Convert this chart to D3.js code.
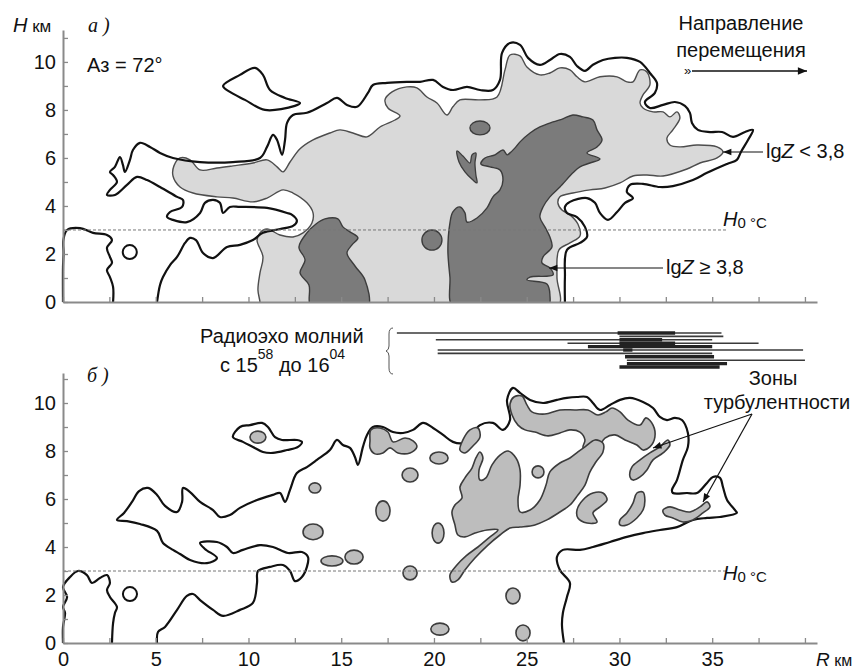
<!DOCTYPE html>
<html><head><meta charset="utf-8">
<script src="https://cdn.jsdelivr.net/npm/d3@7"></script>
<style>body{margin:0;background:#fff}svg{display:block}</style>
</head><body>
<svg id="c" width="855" height="669"></svg>
<script>
// ---------- DATA (R in km, H in km) ----------
const xTickValues = d3.range(0, 40.01, 2.5);
const xTickLabels = [0, 5, 10, 15, 20, 25, 30, 35];
const yTickValues = d3.range(0, 12, 1);
const yTickLabels = [0, 2, 4, 6, 8, 10];
const freezingLevel = 3;          // H0°C, km
const freezingLevelEnd = 35.8;    // km

// Panel a
const aLeftContour = [[0,0],[0,1.46],[0.03,2.04],[0.02,2.58],[0.22,3.0],[0.92,3.08],[1.62,2.88],[2.37,2.79],[2.64,2.58],[2.37,2.25],[2.53,1.88],[2.64,1.63],[2.37,1.33],[2.53,1.04],[2.7,0.63],[2.7,0]];
const aEnvelope = [[5.07,0],[5.23,0.71],[5.39,1.04],[5.77,1.54],[6.15,1.88],[6.58,2.46],[6.85,2.67],[7.17,2.58],[7.55,2.04],[8.09,1.83],[8.84,2.29],[9.54,2.38],[10.24,2.58],[10.78,2.88],[11.70,3.04],[12.40,3.17],[12.61,3.38],[12.35,3.63],[12.08,3.71],[11.0,3.92],[9.54,3.96],[9.0,3.96],[8.63,3.71],[8.46,4.13],[8.09,4.25],[7.65,4.13],[7.39,3.71],[6.68,3.33],[5.93,3.42],[5.61,3.54],[5.77,3.75],[6.42,3.96],[6.47,4.25],[6.15,4.38],[5.23,4.79],[4.53,5.08],[3.99,5.21],[3.45,4.88],[2.80,4.46],[2.37,4.46],[2.53,4.67],[2.91,5.0],[2.70,5.29],[2.53,5.42],[2.80,5.63],[3.07,6.04],[3.23,5.71],[3.34,5.42],[3.61,5.92],[3.77,6.33],[4.15,6.63],[4.69,6.46],[5.23,6.21],[5.93,6.0],[7.39,5.83],[9.16,5.83],[10.62,6.0],[11.0,6.46],[11.32,6.96],[11.54,6.75],[11.81,6.13],[11.97,6.75],[12.08,7.46],[12.40,7.79],[13.15,7.88],[14.23,8.29],[14.77,8.5],[15.31,8.21],[15.85,8.13],[16.44,8.71],[16.71,9.04],[17.47,9.13],[18.54,9.17],[19.25,9.17],[19.95,9.25],[20.49,8.96],[21.02,8.83],[21.78,8.96],[22.48,8.83],[23.18,8.83],[23.56,9.25],[23.67,10.38],[24.10,10.79],[24.64,10.71],[25.07,10.17],[25.71,9.88],[26.25,10.08],[26.79,10.33],[27.33,10.21],[27.71,9.83],[28.14,9.63],[28.57,9.88],[29.11,10.08],[29.76,10.17],[30.40,10.17],[31.11,10.0],[31.64,9.54],[32.02,9.13],[31.91,8.71],[31.37,8.33],[31.64,8.08],[32.35,8.21],[32.99,8.33],[33.53,8.17],[33.80,7.88],[33.91,7.46],[34.23,7.17],[34.88,7.08],[35.53,7.08],[36.12,6.88],[36.77,7.08],[37.20,7.17],[36.93,6.75],[36.55,6.25],[36.33,5.92],[35.80,5.75],[34.72,5.38],[33.96,5.08],[32.88,4.83],[32.18,4.79],[31.27,4.92],[30.57,4.88],[30.40,4.58],[30.73,4.33],[30.30,4.13],[29.87,3.75],[29.38,3.42],[28.95,3.71],[28.68,4.13],[28.25,4.33],[27.33,4.17],[27.06,3.96],[27.17,3.71],[27.71,3.54],[28.14,3.13],[28.25,2.71],[27.87,2.46],[27.17,2.17],[27.06,1.04],[27.06,0]];
const aEar = [[8.63,9.0],[9.54,9.46],[10.35,9.75],[10.78,9.46],[11.16,8.83],[11.97,8.5],[12.78,8.29],[12.5,8.17],[10.89,8.0],[9.81,8.42],[9.0,8.75]];
const aLightZone = [[10.62,0],[10.51,0.5],[10.62,1.21],[10.78,1.88],[10.46,2.58],[10.62,2.88],[11.0,3.04],[11.70,2.79],[12.40,2.71],[12.94,2.88],[13.42,3.29],[13.48,3.71],[13.15,4.13],[12.40,4.54],[11.86,4.67],[11.0,4.33],[10.24,4.17],[9.16,4.33],[8.30,4.38],[7.01,4.54],[6.31,4.79],[5.93,5.25],[5.98,5.67],[6.31,6.0],[6.85,5.92],[7.39,5.5],[8.30,5.58],[9.16,5.67],[10.24,5.79],[11.0,5.92],[11.54,5.63],[11.86,5.42],[12.24,5.83],[12.78,6.38],[13.48,6.75],[14.39,7.04],[14.93,7.17],[15.63,7.04],[16.39,6.88],[17.09,7.29],[17.90,7.58],[18.17,7.75],[17.52,8.08],[17.36,8.42],[17.74,8.75],[18.54,8.96],[19.08,8.92],[19.62,8.54],[20.16,8.29],[20.70,7.79],[21.02,8.13],[21.40,8.42],[22.48,8.42],[23.40,8.54],[23.83,9.67],[24.10,10.29],[24.64,10.25],[25.01,9.79],[25.71,9.46],[26.25,9.54],[26.79,9.75],[27.33,9.67],[27.71,9.38],[28.14,9.17],[28.95,9.38],[29.87,9.38],[30.40,9.17],[30.73,9.17],[31.11,9.67],[31.48,9.58],[31.64,9.04],[31.27,8.63],[31.11,8.29],[31.27,8.08],[31.81,7.92],[32.35,7.92],[32.72,7.71],[33.10,7.92],[33.26,7.67],[32.88,7.17],[32.56,6.83],[32.72,6.54],[33.26,6.46],[34.18,6.54],[35.26,6.46],[35.58,6.25],[35.26,6.0],[34.34,5.79],[33.64,5.54],[32.35,5.25],[31.48,5.29],[30.73,5.25],[30.03,4.96],[29.22,4.75],[28.41,4.67],[27.49,4.54],[26.79,4.38],[26.68,4.13],[26.90,3.83],[27.33,3.63],[27.76,3.25],[27.87,2.75],[27.33,2.46],[26.74,2.17],[26.63,1.04],[26.68,-0.2],[18,-0.3],[10.62,-0.2]];
const aDarkLeft = [[13.37,-0.2],[13.26,0.71],[12.78,1.21],[13.05,1.75],[12.72,2.29],[13.15,2.88],[13.64,3.25],[14.12,3.46],[14.82,3.46],[15.09,3.13],[15.47,2.92],[15.90,2.67],[15.58,2.38],[15.31,2.04],[15.74,1.5],[16.28,0.92],[16.44,-0.2],[15,-0.3]];
const aDarkMain = [[21.02,-0.2],[20.86,1.04],[20.75,2.17],[20.86,3.29],[21.02,3.75],[21.40,3.96],[21.67,3.71],[21.78,3.33],[22.32,3.5],[22.86,3.92],[23.18,4.38],[23.56,4.67],[23.72,5.08],[23.56,5.5],[23.02,5.63],[22.53,5.75],[22.75,6.0],[23.29,6.13],[23.72,6.33],[23.94,6.13],[24.10,6.21],[24.37,6.42],[24.64,6.67],[25.18,7.04],[25.71,7.29],[26.42,7.5],[26.95,7.63],[27.49,7.79],[28.03,7.71],[28.57,7.58],[28.79,7.17],[29.06,6.75],[28.79,6.46],[28.25,6.21],[28.95,5.96],[28.41,5.79],[27.87,5.63],[27.49,5.38],[26.79,4.79],[26.25,4.38],[25.88,3.96],[25.71,3.54],[25.98,3.13],[26.25,2.71],[26.36,2.29],[25.88,1.88],[25.82,1.63],[26.25,1.42],[26.42,1.13],[25.18,1.04],[25.01,0.92],[26.09,0.75],[26.25,0.29],[26.15,-0.2],[23.5,-0.3]];
const aDarkV = [[21.24,6.29],[21.56,6.08],[21.94,5.79],[22.05,6.13],[22.26,6.21],[22.21,5.79],[22.26,5.29],[22.32,4.96],[22.10,5.08],[21.67,5.42],[21.35,5.83]];
// cells: [R, H, halfwidth km, halfheight km]
const aDarkCells = [[22.48,7.25,0.54,0.29],[19.89,2.58,0.54,0.42]];
const aRing = [[3.6,2.08,0.38,0.29]];

// Panel б
const bLeftContour = [[0,0],[0,0.67],[0.11,1.25],[0,1.5],[0.22,1.92],[0,2.33],[0.38,2.75],[0.81,3.0],[1.29,2.83],[1.56,2.5],[1.99,2.71],[2.37,2.83],[2.53,2.5],[2.37,2.21],[2.53,1.92],[2.91,1.5],[2.80,1.25],[2.70,0.83],[2.64,0]];
const bEnvelope = [[5.07,0],[5.12,0.46],[5.50,0.67],[6.15,1.38],[6.68,1.96],[7.01,2.04],[7.39,1.79],[8.09,1.38],[8.63,1.13],[9.54,1.38],[10.24,1.67],[10.46,2.5],[10.51,3.0],[11.16,3.17],[11.86,3.25],[12.24,3.0],[12.51,2.58],[12.88,2.75],[13.15,3.17],[13.21,3.58],[12.88,3.79],[12.13,3.75],[11.32,4.0],[10.62,4.08],[9.70,3.88],[9.16,3.75],[8.84,4.0],[8.30,4.21],[7.39,4.17],[7.65,3.92],[8.30,3.54],[7.76,3.33],[6.85,3.46],[6.31,3.71],[5.93,3.88],[5.39,4.17],[5.07,4.67],[4.15,4.96],[3.45,5.08],[2.91,5.13],[3.29,5.42],[3.72,5.88],[4.10,6.33],[4.58,6.46],[5.07,6.17],[5.50,5.71],[6.15,5.46],[6.42,5.88],[6.47,6.46],[6.85,6.29],[7.39,5.88],[8.09,5.54],[8.46,5.25],[9.0,5.33],[9.54,5.63],[10.46,5.96],[11.32,6.17],[11.70,6.25],[11.97,5.88],[12.24,6.38],[12.61,7.08],[13.15,7.33],[13.69,7.63],[14.39,8.04],[14.77,8.46],[15.09,8.25],[15.47,8.13],[15.74,7.75],[15.90,7.42],[16.17,8.17],[16.39,8.67],[16.71,9.0],[17.25,9.0],[17.79,8.79],[18.33,8.75],[18.87,8.88],[19.41,9.17],[19.95,8.96],[20.49,8.67],[21.02,8.38],[21.56,8.33],[21.94,8.58],[22.48,9.08],[23.18,9.17],[23.72,8.88],[24.10,9.29],[23.94,10.13],[24.26,10.63],[24.64,10.42],[25.18,10.13],[25.88,10.0],[26.63,10.13],[27.17,10.21],[27.71,10.25],[28.25,10.25],[28.57,10.0],[28.95,9.71],[29.49,9.92],[30.03,10.13],[30.57,10.21],[31.27,10.04],[31.81,9.79],[32.18,9.42],[32.56,9.29],[32.99,9.38],[33.37,9.29],[33.69,8.75],[33.69,8.17],[33.42,7.63],[33.10,6.79],[32.83,6.38],[32.88,6.25],[33.64,6.25],[34.18,6.25],[34.72,6.67],[35.04,6.92],[35.42,6.88],[35.58,6.5],[35.80,5.96],[36.23,5.54],[36.33,5.42],[35.42,5.25],[34.72,5.21],[33.96,5.13],[33.10,4.83],[32.18,4.71],[31.27,4.58],[30.40,4.42],[29.49,4.21],[28.57,4.0],[27.87,3.88],[26.95,3.88],[26.63,3.58],[26.79,3.04],[27.33,2.5],[27.17,1.92],[26.95,1.25],[26.90,0.75],[27.01,0]];
const bEar = [[9.16,8.58],[9.54,9.0],[10.08,9.08],[10.73,9.17],[11.05,9.0],[11.43,8.58],[11.81,8.46],[12.61,8.46],[12.88,8.38],[12.67,8.17],[12.08,8.04],[11.32,7.92],[10.78,7.96],[10.24,8.17],[9.70,8.38]];
const bRing = [[3.61,2.04,0.38,0.29]];
const bTurbCells = [[10.51,8.58,0.43,0.25],[13.58,6.46,0.32,0.21],[13.48,4.63,0.54,0.33],[14.50,3.42,0.59,0.21],[15.69,3.58,0.49,0.29],[17.25,5.5,0.38,0.42],[18.71,7.0,0.43,0.29],[20.27,7.71,0.49,0.25],[18.71,2.92,0.38,0.29],[20.22,4.58,0.32,0.42],[24.26,1.96,0.38,0.33],[20.32,0.58,0.49,0.25],[24.80,0.42,0.38,0.33],[25.61,7.13,0.32,0.25]];
const bTurbTop1 = [[16.55,8.42],[16.60,8.88],[17.09,8.96],[17.52,8.79],[17.79,8.38],[18.44,8.54],[18.87,8.42],[19.08,8.17],[18.71,7.92],[18.06,7.92],[17.63,8.13],[17.25,7.92],[16.82,7.88],[16.55,8.13]];
const bTurbTop2 = [[21.40,8.04],[21.56,8.46],[21.94,8.88],[22.37,8.96],[22.48,8.58],[22.10,8.21],[21.67,7.92]];
const bTurbBand = [[24.10,9.96],[24.31,10.25],[24.74,10.29],[25.01,9.92],[25.28,9.63],[25.98,9.54],[26.79,9.71],[27.60,9.71],[28.30,9.71],[28.84,9.5],[29.27,9.63],[29.60,9.79],[30.03,9.63],[30.46,9.29],[31.11,9.08],[31.43,9.38],[31.81,9.08],[31.91,8.58],[31.64,8.17],[31.27,8.04],[30.94,8.25],[30.30,8.46],[29.76,8.67],[29.22,8.54],[28.84,8.13],[28.41,7.96],[28.03,8.13],[28.14,8.46],[27.87,8.79],[27.33,8.88],[26.79,8.75],[26.15,8.63],[25.44,8.79],[24.91,8.88],[24.53,9.08],[24.21,9.5]];
const bTurbCore = [[20.97,2.54],[20.86,2.83],[21.19,3.21],[21.73,3.63],[22.37,4.0],[23.02,4.42],[23.45,4.71],[22.86,4.71],[22.21,4.58],[21.67,4.42],[21.29,4.5],[21.13,4.92],[20.97,5.46],[21.13,5.75],[21.51,6.04],[21.40,6.5],[21.67,6.88],[22.05,7.29],[22.26,7.71],[22.48,7.96],[22.64,7.71],[22.43,7.21],[22.48,6.79],[22.80,6.88],[23.13,7.42],[23.56,7.83],[23.99,8.0],[24.42,7.71],[24.64,7.21],[24.64,6.58],[24.53,5.96],[24.64,5.46],[25.18,5.54],[25.71,5.96],[26.04,6.58],[26.25,7.13],[26.79,7.5],[27.33,7.71],[27.76,7.96],[28.14,8.17],[28.68,8.46],[29.11,8.33],[29.11,7.96],[28.73,7.54],[28.41,7.13],[28.14,6.58],[27.76,6.17],[27.33,5.75],[26.79,5.46],[26.09,5.13],[25.44,4.92],[24.64,4.83],[24.10,4.79],[23.56,4.5],[22.91,4.08],[22.21,3.54],[21.67,3.04],[21.29,2.63]];
const bTurbK1 = [[27.71,5.54],[28.03,5.96],[28.57,6.25],[29.11,6.25],[29.33,5.96],[28.95,5.67],[28.57,5.42],[28.79,5.04],[28.25,5.0],[27.76,5.21]];
const bTurbK2 = [[30.03,5.13],[30.40,5.42],[30.73,5.83],[30.94,6.25],[31.27,6.29],[31.37,5.96],[31.27,5.54],[30.94,5.21],[30.40,4.92],[30.03,4.92]];
const bTurbK3 = [[32.35,5.54],[32.72,5.67],[33.26,5.54],[33.80,5.46],[34.34,5.67],[34.72,5.88],[34.88,5.67],[34.50,5.42],[33.96,5.13],[33.42,5.04],[32.88,5.21],[32.45,5.33]];
const bTurbK4 = [[30.57,6.92],[30.67,7.33],[31.11,7.63],[31.64,7.92],[32.18,8.17],[32.61,8.46],[32.72,8.25],[32.35,7.92],[31.81,7.63],[31.48,7.21],[31.11,6.92],[30.73,6.79]];

// Lightning radio echoes 15:58 - 16:04 (km along R)
const flashStart = [18.0, 30.0, 20.1, 27.2, 20.2, 20.2, 30.4, 29.9, 30.0, 30.0, 28.3, 30.2, 30.3, 30.4, 30.0];
const flashEnd   = [35.5, 35.6, 35.0, 37.5, 39.9, 35.0, 40.0, 33.0, 32.3, 33.0, 35.0, 30.7, 35.1, 35.8, 35.4];
const flashRow   = [0, 1, 2, 3, 5, 6, 8, 0, 2, 3, 4, 5, 7, 9, 10];
const flashCore  = [0, 0, 0, 0, 0, 0, 0, 1, 1, 1, 1, 1, 1, 1, 1];

// ---------- DRAWING ----------
const svg = d3.select("#c");
const FONT = "'Liberation Sans', Arial, Helvetica, sans-serif";
const SERIF = "'Liberation Serif', 'Times New Roman', serif";
const x = d3.scaleLinear().domain([0, 40.65]).range([63, 817]);
const yA = d3.scaleLinear().domain([0, 11.33]).range([302, 30]);
const yB = d3.scaleLinear().domain([0, 11.25]).range([643, 373]);
const rowY = d3.scaleLinear().domain([0, 10]).range([333, 367]);

const defs = svg.append("defs");
defs.append("marker").attr("id","ah").attr("viewBox","0 0 10 10").attr("refX",10).attr("refY",5)
  .attr("markerWidth",8).attr("markerHeight",7).attr("orient","auto")
  .append("path").attr("d","M0,1 L10,5 L0,9 z").attr("fill","#111");
defs.append("clipPath").attr("id","clipA").append("rect").attr("x",0).attr("y",0).attr("width",855).attr("height",yA(0));
defs.append("clipPath").attr("id","clipB").append("rect").attr("x",0).attr("y",yB(11.25)).attr("width",855).attr("height",yB(0)-yB(11.25));

function openLine(y){ return d3.line().x(d=>x(d[0])).y(d=>y(d[1])).curve(d3.curveCatmullRom.alpha(0.5)); }
function closedLine(y){ return d3.line().x(d=>x(d[0])).y(d=>y(d[1])).curve(d3.curveCatmullRomClosed.alpha(0.5)); }

function area(g, y, pts, fill, stroke, sw){
  g.append("path").attr("d", closedLine(y)(pts)).attr("fill", fill).attr("stroke", stroke).attr("stroke-width", sw).attr("stroke-linejoin","round");
}
function cells(g, y, arr, fill, stroke, sw){
  g.selectAll(null).data(arr).enter().append("ellipse")
    .attr("cx", d=>x(d[0])).attr("cy", d=>y(d[1]))
    .attr("rx", d=>x(d[0]+d[2])-x(d[0])).attr("ry", d=>y(d[1])-y(d[1]+d[3]))
    .attr("fill", fill).attr("stroke", stroke).attr("stroke-width", sw);
}
function contour(g, y, pts, closed){
  g.append("path").attr("d", (closed?closedLine(y):openLine(y))(pts)).attr("fill","none")
    .attr("stroke","#111").attr("stroke-width",2.2).attr("stroke-linejoin","round");
}

const LIGHT = "#d9d9d9", DARK = "#7b7b7b", TURB = "#bdbdbd", EDGE = "#3c3c3c";

// ---- Panel a ----
const gA = svg.append("g").attr("clip-path","url(#clipA)");
area(gA, yA, aLightZone, LIGHT, "#4d4d4d", 1.4);
area(gA, yA, aDarkLeft, DARK, EDGE, 1.4);
area(gA, yA, aDarkMain, DARK, EDGE, 1.4);
area(gA, yA, aDarkV, DARK, EDGE, 1.3);
cells(gA, yA, aDarkCells, DARK, EDGE, 1.4);
contour(gA, yA, aLeftContour, false);
contour(gA, yA, aEnvelope, false);
contour(gA, yA, aEar, true);
cells(gA, yA, aRing, "none", "#111", 2);

// ---- Panel б ----
const gB = svg.append("g").attr("clip-path","url(#clipB)");
contour(gB, yB, bLeftContour, false);
contour(gB, yB, bEnvelope, false);
contour(gB, yB, bEar, true);
cells(gB, yB, bRing, "none", "#111", 2);
[bTurbTop1, bTurbTop2, bTurbBand, bTurbCore, bTurbK1, bTurbK2, bTurbK3, bTurbK4].forEach(p => area(gB, yB, p, TURB, EDGE, 1.6));
cells(gB, yB, bTurbCells, TURB, EDGE, 1.6);

// freezing level
[yA, yB].forEach(y => {
  svg.append("line").attr("x1", x(0)).attr("x2", x(freezingLevelEnd)).attr("y1", y(freezingLevel)).attr("y2", y(freezingLevel))
    .attr("stroke","#777").attr("stroke-width",1).attr("stroke-dasharray","3,2");
});

// ---- Axes ----
function styleAxis(g){
  g.select(".domain").attr("stroke","#8a8a8a").attr("stroke-width",2);
  g.selectAll(".tick line").attr("stroke","#8a8a8a").attr("stroke-width",1.3);
  g.selectAll("text").attr("font-family", FONT).attr("font-size", 20).attr("fill","#111");
}
const yFmt = d => yTickLabels.includes(d) ? d : "";
svg.append("g").attr("transform","translate(63,0)")
  .call(d3.axisLeft(yA).tickValues(yTickValues).tickFormat(yFmt).tickSizeInner(-5).tickSizeOuter(0).tickPadding(7)).call(styleAxis);
svg.append("g").attr("transform","translate(63,0)")
  .call(d3.axisLeft(yB).tickValues(yTickValues).tickFormat(yFmt).tickSizeInner(-5).tickSizeOuter(0).tickPadding(7)).call(styleAxis);
svg.append("g").attr("transform","translate(0,302)")
  .call(d3.axisBottom(x).tickValues(xTickValues).tickFormat("").tickSizeInner(-5).tickSizeOuter(0)).call(styleAxis);
svg.append("g").attr("transform","translate(0,643)")
  .call(d3.axisBottom(x).tickValues(xTickValues).tickFormat(d => xTickLabels.includes(d) ? d : "").tickSizeInner(-5).tickSizeOuter(0).tickPadding(9)).call(styleAxis);

// ---- Lightning echoes ----
const flashes = flashStart.map((s,i)=>({s, e:flashEnd[i], r:flashRow[i], core:flashCore[i]}));
svg.append("g").selectAll("line").data(flashes.filter(d=>!d.core)).enter().append("line")
  .attr("x1",d=>x(d.s)).attr("x2",d=>x(d.e)).attr("y1",d=>rowY(d.r)).attr("y2",d=>rowY(d.r))
  .attr("stroke","#3a3a3a").attr("stroke-width",1.6);
svg.append("g").selectAll("line").data(flashes.filter(d=>d.core)).enter().append("line")
  .attr("x1",d=>x(d.s)).attr("x2",d=>x(d.e)).attr("y1",d=>rowY(d.r)).attr("y2",d=>rowY(d.r))
  .attr("stroke","#222").attr("stroke-width",3.4);
svg.append("path").attr("d","M393,328 q-4,0 -4,6 v12 q0,4 -3,5 q3,1 3,5 v12 q0,6 4,6")
  .attr("fill","none").attr("stroke","#555").attr("stroke-width",1);

// ---- Texts ----
function txt(x0, y0, parts, opts={}){
  const t = svg.append("text").attr("x",x0).attr("y",y0).attr("font-family",opts.family||FONT)
    .attr("font-size",opts.size||20).attr("fill","#111").attr("text-anchor",opts.anchor||"start");
  parts.forEach(p => {
    const s = t.append("tspan").text(p.t);
    if(p.i) s.attr("font-style","italic");
    if(p.size) s.attr("font-size",p.size);
    if(p.dy!==undefined) s.attr("dy",p.dy);
  });
  return t;
}
txt(13, 32, [{t:"H",i:1},{t:" км", size:17}]);
txt(88, 32, [{t:"а )",i:1}], {family:SERIF, size:20});
txt(87, 72, [{t:"Аз = 72°"}]);
txt(741, 30, [{t:"Направление"}], {anchor:"middle"});
txt(741, 57, [{t:"перемещения"}], {anchor:"middle"});
svg.append("line").attr("x1",692).attr("x2",807).attr("y1",71).attr("y2",71).attr("stroke","#111").attr("stroke-width",1.3).attr("marker-end","url(#ah)");
txt(684, 75, [{t:"»"}], {size:13});
txt(766, 158, [{t:"lg"},{t:"Z",i:1},{t:" < 3,8"}]);
svg.append("line").attr("x1",763).attr("x2",723).attr("y1",152).attr("y2",152).attr("stroke","#111").attr("stroke-width",1.2).attr("marker-end","url(#ah)");
txt(666, 274, [{t:"lg"},{t:"Z",i:1},{t:" ≥ 3,8"}]);
svg.append("line").attr("x1",663).attr("x2",549).attr("y1",268).attr("y2",268).attr("stroke","#111").attr("stroke-width",1.2).attr("marker-end","url(#ah)");
txt(723, 226, [{t:"H",i:1},{t:"0 °C", size:15, dy:2}]);
txt(723, 580, [{t:"H",i:1},{t:"0 °C", size:15, dy:2}]);
txt(200, 343, [{t:"Радиоэхо молний"}]);
txt(220, 372, [{t:"с 15"},{t:"58", size:14, dy:-13},{t:" до 16", dy:13},{t:"04", size:14, dy:-13}]);
txt(87, 382, [{t:"б )",i:1}], {family:SERIF, size:20});
txt(773, 385, [{t:"Зоны"}], {anchor:"middle"});
txt(777, 409, [{t:"турбулентности"}], {anchor:"middle"});
svg.append("line").attr("x1",752).attr("x2",653).attr("y1",414).attr("y2",448).attr("stroke","#111").attr("stroke-width",1.2).attr("marker-end","url(#ah)");
svg.append("line").attr("x1",752).attr("x2",703).attr("y1",414).attr("y2",502).attr("stroke","#111").attr("stroke-width",1.2).attr("marker-end","url(#ah)");
txt(816, 666, [{t:"R",i:1,size:19},{t:" км", size:16}]);
</script>
</body></html>
